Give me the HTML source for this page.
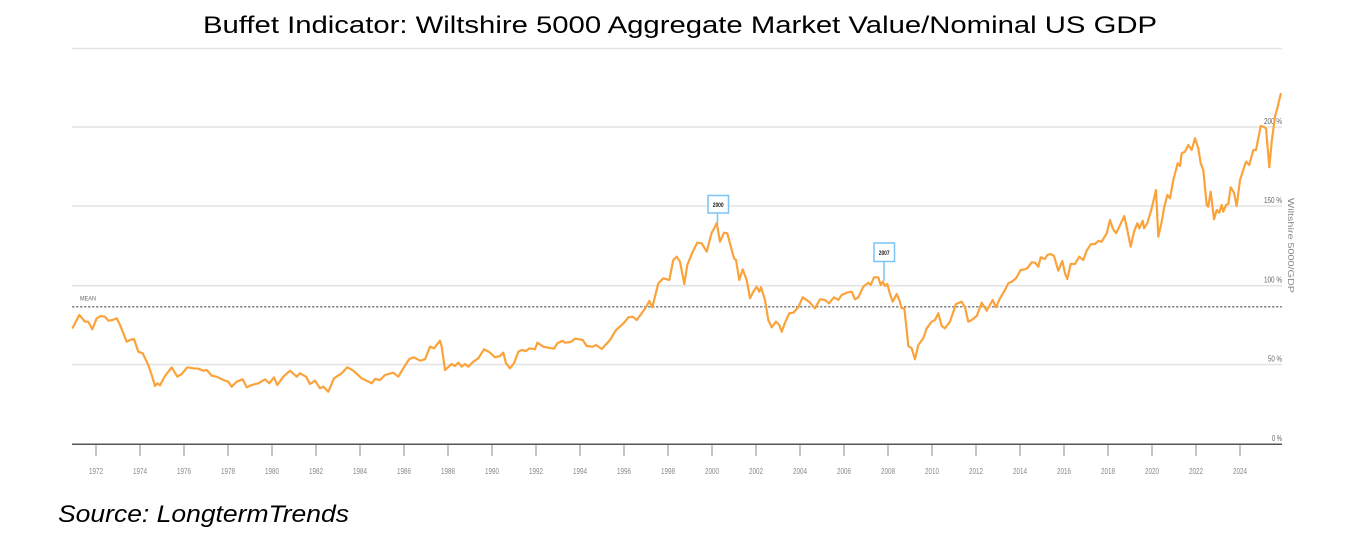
<!DOCTYPE html>
<html>
<head>
<meta charset="utf-8">
<style>
  html, body { margin: 0; padding: 0; background: #ffffff; }
  body { width: 1370px; height: 544px; overflow: hidden; }
  svg { display: block; }
</style>
</head>
<body>
<svg width="1370" height="544" viewBox="0 0 1370 544" xmlns="http://www.w3.org/2000/svg">
  <rect width="1370" height="544" fill="#ffffff"/>

  <!-- Title -->
  <text x="203" y="33" font-family="'Liberation Sans', Arial, sans-serif" font-size="24" fill="#000" textLength="954" lengthAdjust="spacingAndGlyphs">Buffet Indicator: Wiltshire 5000 Aggregate Market Value/Nominal US GDP</text>

  <!-- Gridlines -->
  <g stroke="#e3e3e3" stroke-width="1.6">
    <line x1="72" y1="48.5" x2="1282" y2="48.5"/>
    <line x1="72" y1="127" x2="1282" y2="127"/>
    <line x1="72" y1="206" x2="1282" y2="206"/>
    <line x1="72" y1="285.7" x2="1282" y2="285.7"/>
    <line x1="72" y1="364.5" x2="1282" y2="364.5"/>
  </g>

  <!-- Y labels -->
  <g font-family="'Liberation Sans', Arial, sans-serif" font-size="8" fill="#666" text-anchor="end">
    <text x="1282" y="124" textLength="18" lengthAdjust="spacingAndGlyphs">200 %</text>
    <text x="1282" y="203" textLength="18" lengthAdjust="spacingAndGlyphs">150 %</text>
    <text x="1282" y="282.5" textLength="18" lengthAdjust="spacingAndGlyphs">100 %</text>
    <text x="1282" y="361.5" textLength="14" lengthAdjust="spacingAndGlyphs">50 %</text>
    <text x="1282" y="441" textLength="10" lengthAdjust="spacingAndGlyphs">0 %</text>
  </g>

  <!-- Rotated axis title -->
  <text transform="translate(1288,198) rotate(90)" font-family="'Liberation Sans', Arial, sans-serif" font-size="8" fill="#888" textLength="95" lengthAdjust="spacingAndGlyphs">Wiltshire 5000/GDP</text>

  <!-- Mean line -->
  <line x1="72" y1="306.8" x2="1282" y2="306.8" stroke="#888" stroke-width="1.5" stroke-dasharray="2.5,1.5"/>
  <text x="80" y="300.5" font-family="'Liberation Sans', Arial, sans-serif" font-size="6.5" fill="#666" textLength="16" lengthAdjust="spacingAndGlyphs">MEAN</text>

  <!-- X axis -->
  <line x1="72" y1="444.3" x2="1282" y2="444.3" stroke="#555" stroke-width="1.5"/>
  <g stroke="#888" stroke-width="1">
    <line x1="96" y1="445" x2="96" y2="456"/>
    <line x1="140" y1="445" x2="140" y2="456"/>
    <line x1="184" y1="445" x2="184" y2="456"/>
    <line x1="228" y1="445" x2="228" y2="456"/>
    <line x1="272" y1="445" x2="272" y2="456"/>
    <line x1="316" y1="445" x2="316" y2="456"/>
    <line x1="360" y1="445" x2="360" y2="456"/>
    <line x1="404" y1="445" x2="404" y2="456"/>
    <line x1="448" y1="445" x2="448" y2="456"/>
    <line x1="492" y1="445" x2="492" y2="456"/>
    <line x1="536" y1="445" x2="536" y2="456"/>
    <line x1="580" y1="445" x2="580" y2="456"/>
    <line x1="624" y1="445" x2="624" y2="456"/>
    <line x1="668" y1="445" x2="668" y2="456"/>
    <line x1="712" y1="445" x2="712" y2="456"/>
    <line x1="756" y1="445" x2="756" y2="456"/>
    <line x1="800" y1="445" x2="800" y2="456"/>
    <line x1="844" y1="445" x2="844" y2="456"/>
    <line x1="888" y1="445" x2="888" y2="456"/>
    <line x1="932" y1="445" x2="932" y2="456"/>
    <line x1="976" y1="445" x2="976" y2="456"/>
    <line x1="1020" y1="445" x2="1020" y2="456"/>
    <line x1="1064" y1="445" x2="1064" y2="456"/>
    <line x1="1108" y1="445" x2="1108" y2="456"/>
    <line x1="1152" y1="445" x2="1152" y2="456"/>
    <line x1="1196" y1="445" x2="1196" y2="456"/>
    <line x1="1240" y1="445" x2="1240" y2="456"/>
  </g>
  <g font-family="'Liberation Sans', Arial, sans-serif" font-size="8" fill="#888" text-anchor="middle">
    <text x="96" y="474" textLength="14" lengthAdjust="spacingAndGlyphs">1972</text>
    <text x="140" y="474" textLength="14" lengthAdjust="spacingAndGlyphs">1974</text>
    <text x="184" y="474" textLength="14" lengthAdjust="spacingAndGlyphs">1976</text>
    <text x="228" y="474" textLength="14" lengthAdjust="spacingAndGlyphs">1978</text>
    <text x="272" y="474" textLength="14" lengthAdjust="spacingAndGlyphs">1980</text>
    <text x="316" y="474" textLength="14" lengthAdjust="spacingAndGlyphs">1982</text>
    <text x="360" y="474" textLength="14" lengthAdjust="spacingAndGlyphs">1984</text>
    <text x="404" y="474" textLength="14" lengthAdjust="spacingAndGlyphs">1986</text>
    <text x="448" y="474" textLength="14" lengthAdjust="spacingAndGlyphs">1988</text>
    <text x="492" y="474" textLength="14" lengthAdjust="spacingAndGlyphs">1990</text>
    <text x="536" y="474" textLength="14" lengthAdjust="spacingAndGlyphs">1992</text>
    <text x="580" y="474" textLength="14" lengthAdjust="spacingAndGlyphs">1994</text>
    <text x="624" y="474" textLength="14" lengthAdjust="spacingAndGlyphs">1996</text>
    <text x="668" y="474" textLength="14" lengthAdjust="spacingAndGlyphs">1998</text>
    <text x="712" y="474" textLength="14" lengthAdjust="spacingAndGlyphs">2000</text>
    <text x="756" y="474" textLength="14" lengthAdjust="spacingAndGlyphs">2002</text>
    <text x="800" y="474" textLength="14" lengthAdjust="spacingAndGlyphs">2004</text>
    <text x="844" y="474" textLength="14" lengthAdjust="spacingAndGlyphs">2006</text>
    <text x="888" y="474" textLength="14" lengthAdjust="spacingAndGlyphs">2008</text>
    <text x="932" y="474" textLength="14" lengthAdjust="spacingAndGlyphs">2010</text>
    <text x="976" y="474" textLength="14" lengthAdjust="spacingAndGlyphs">2012</text>
    <text x="1020" y="474" textLength="14" lengthAdjust="spacingAndGlyphs">2014</text>
    <text x="1064" y="474" textLength="14" lengthAdjust="spacingAndGlyphs">2016</text>
    <text x="1108" y="474" textLength="14" lengthAdjust="spacingAndGlyphs">2018</text>
    <text x="1152" y="474" textLength="14" lengthAdjust="spacingAndGlyphs">2020</text>
    <text x="1196" y="474" textLength="14" lengthAdjust="spacingAndGlyphs">2022</text>
    <text x="1240" y="474" textLength="14" lengthAdjust="spacingAndGlyphs">2024</text>
  </g>

  <!-- Annotation stems -->
  <line x1="717.5" y1="213" x2="717.5" y2="228" stroke="#7cc4f5" stroke-width="1.5"/>
  <line x1="884" y1="261.5" x2="884" y2="281" stroke="#7cc4f5" stroke-width="1.5"/>

  <!-- Series -->
  <polyline fill="none" stroke="#fba33b" stroke-width="2.2" stroke-linejoin="round" stroke-linecap="round" points="
72.7,327.7 79.3,315 85,321.7 88.3,321.7 92.3,329.3 96.7,318.3 100.7,316 105,316.7 108.3,320.7 112.7,320 116.7,318.3 120,325 126.7,341.7 130,340 134,339 138.3,351.7 142.7,353.3 148.3,365 151.7,375 155,386 157.3,383.3 160,385.3 165,376 171.7,367.3 177.3,376.7 181.7,374 187.3,367.3 193.3,368.3 198.3,368.7 203.3,370.7 206.7,370 211.7,375.7 216.7,376.7 223.3,380 228.3,381.7 231.7,386.7 236.7,381.7 242.7,379.3 246.7,387.3 251.7,385 258.3,383.3 265,379.3 269.3,383.3 274,377.3 277.3,385 283.3,376.7 290,370.7 296.7,376.7 300,373.3 306,376.7 310,384 315,380.7 320,388.3 323.3,386.7 328.3,391.7 334,378.3 341.7,373.3 347.3,367.3 353.3,370.7 361.7,378.3 371.7,383.3 375,379 380,380 385,375 393.3,372.7 398.3,376.7 403.3,368.3 409.3,359 414,357.3 420,360.7 425,359.3 430,346.7 434,348.3 440,340.7 441.7,346.7 445,370 451.7,364 455,366 458.3,362.7 461.7,366.7 465,364 468.3,366.7 473.3,361.7 478.3,358.3 484,349.3 489.3,352 495,357.3 500,356 503.3,352.7 506,363.3 510,368.3 514,363.3 518.3,351.7 521.7,350 526,351 529.3,348.3 535,349.3 537.3,342.7 543.3,346.7 548.3,347.7 554,348.7 557.3,343.3 562.7,340.7 565,342.7 570.7,342 575,338.7 579.3,339.3 582.7,340 586.7,346 592.7,346.7 596,345 601.7,349 610,340 616,330 621.7,325 625,321.7 628.3,317.3 632.7,316.7 636.7,320 641.7,313.3 646.7,306 649.3,301 652.3,307.3 658.3,283.3 663.3,278.3 669.3,280 673.3,260 676.7,256.7 680,261.7 684.3,284 687.3,265 692.7,251.7 697.3,242.7 701.7,243.3 706.7,251.7 711.7,232.7 713.3,230 716.7,223.3 720,241.7 724,232.7 727.3,233.3 731.7,250 734,258.3 736,260 739.3,280 742.7,269.3 746.7,280 750,298.3 753.3,291.7 756.7,286.7 759.3,291.7 761,287.3 765,300 768.3,320 771.7,327.3 776,321.7 779.3,325 781.7,331.7 785,322.7 789.3,313.3 793.3,312.7 798.3,307.3 802.7,297.3 806.7,300 810,302.7 815,308.3 820,299.3 825,300 829,303.3 834,297.3 838.3,300 841.7,295 846.7,292.7 851.7,291.7 855,299.3 858.3,297.3 863.3,286.7 868.3,282.7 870.7,285 874,277.3 878.3,277.3 880.7,285 882.7,281.7 885,286 887.3,284 890,294 892.7,301.7 896.7,294 899.3,300 901.7,308.3 904.3,308.3 906.7,330 908.3,346 911.7,348.3 915,359.3 918.3,345 923.3,338.3 926.7,328.3 931.7,321.7 935,320 938.3,313.3 941.7,326 945,328.3 950,321.7 956,304 959.3,302.7 961.7,301.7 965,307.3 968.3,321.7 971.7,320 976.7,316 981.7,302.7 986.7,310.7 992.7,300 996,307.3 1000,298.3 1005,290 1008.3,283.3 1011.7,281.7 1016,278.3 1020.7,270 1025,269.3 1027.3,268.3 1031.7,262.3 1035,262.7 1038.3,266.7 1040.7,257.3 1045,259 1047.3,255 1050.7,254 1054,256 1058.3,270.7 1062.3,261 1065,273.3 1067.3,279 1070.7,264 1075,264 1079.3,256.7 1083.3,260 1086.7,250.7 1090.7,244.3 1095,244 1098.3,241 1101.7,241.7 1106.7,233.3 1110,220 1112.7,228.3 1116,233.3 1119.3,226.7 1124.3,216 1127.3,230 1130.7,246.7 1134,231.7 1137.3,223.3 1139.3,228.3 1142.7,220.7 1144,228.3 1147.3,223.3 1151.7,208.3 1156,190 1158.3,236.7 1161.7,221.7 1164,208.3 1167.3,195 1170,198.3 1173.3,180 1177.7,163.3 1180,166 1181.7,153.3 1185,151.7 1188.3,145 1191.7,150 1195,138.3 1198.3,148.3 1200.7,163.3 1203.3,170 1206.7,205 1208.3,206.7 1210.7,191.7 1214,219.3 1216.7,210 1219.3,212.7 1221.7,205 1223.3,211.7 1226,205 1228.3,204 1230.7,187.3 1234,192.7 1236.7,206 1240,180 1246,161.7 1249.3,165 1253.3,150 1256,150 1260.7,126 1263.3,126.7 1266,128.3 1269.3,167.3 1271.7,141.7 1275,116.7 1277.3,108.3 1280.7,94"/>

  <!-- Annotation boxes -->
  <rect x="708" y="195.5" width="20.5" height="17.5" fill="#ffffff" stroke="#7cc4f5" stroke-width="1.5"/>
  <text x="718.2" y="207" font-family="'Liberation Sans', Arial, sans-serif" font-size="6.5" font-weight="bold" fill="#222" text-anchor="middle" textLength="11" lengthAdjust="spacingAndGlyphs">2000</text>
  <rect x="874" y="243" width="20.5" height="18.5" fill="#ffffff" stroke="#7cc4f5" stroke-width="1.5"/>
  <text x="884.2" y="255" font-family="'Liberation Sans', Arial, sans-serif" font-size="6.5" font-weight="bold" fill="#222" text-anchor="middle" textLength="11" lengthAdjust="spacingAndGlyphs">2007</text>

  <!-- Source -->
  <text x="58" y="522" font-family="'Liberation Sans', Arial, sans-serif" font-size="24" font-style="italic" fill="#000" textLength="291" lengthAdjust="spacingAndGlyphs">Source: LongtermTrends</text>
</svg>
</body>
</html>
